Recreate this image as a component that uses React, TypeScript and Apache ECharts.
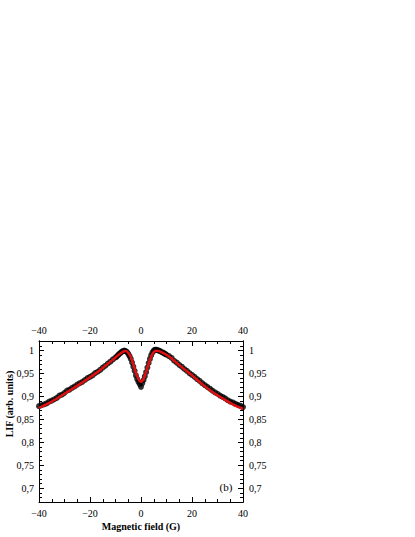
import React, { useEffect, useRef } from "react";
import * as echarts from "echarts";

const X_MIN = -40;
const X_MAX = 40;
const Y_MIN = 0.67;
const Y_MAX = 1.021;

const yMajorTicks = [0.7, 0.75, 0.8, 0.85, 0.9, 0.95, 1];
const yMinorTicks = [
  0.67, 0.68, 0.69, 0.71, 0.72, 0.73, 0.74, 0.76, 0.77, 0.78, 0.79, 0.81, 0.82,
  0.83, 0.84, 0.86, 0.87, 0.88, 0.89, 0.91, 0.92, 0.93, 0.94, 0.96, 0.97, 0.98,
  0.99, 1.01, 1.02,
];

// measured LIF signal (black dots): [field (G), LIF]
const measured: [number, number][] = [
  [-40, 0.879], [-39, 0.881], [-38, 0.883], [-37, 0.885], [-36, 0.889],
  [-35, 0.891], [-34, 0.894], [-33, 0.897], [-32, 0.902], [-31, 0.904],
  [-30, 0.908], [-29, 0.913], [-28, 0.915], [-27, 0.919], [-26, 0.922],
  [-25, 0.926], [-24, 0.929], [-23, 0.932], [-22, 0.936], [-21, 0.94],
  [-20, 0.943], [-19, 0.946], [-18, 0.951], [-17, 0.954], [-16, 0.958],
  [-15, 0.963], [-14, 0.967], [-13, 0.972], [-12, 0.976], [-11, 0.981],
  [-10, 0.985], [-9.5, 0.987], [-9, 0.99], [-8.5, 0.993], [-8, 0.995],
  [-7.5, 0.998], [-7, 0.999], [-6.5, 1.0], [-6, 0.999], [-5.5, 0.997],
  [-5, 0.993], [-4.5, 0.988], [-4, 0.982], [-3.5, 0.974], [-3, 0.965],
  [-2.5, 0.956], [-2, 0.946], [-1.5, 0.938], [-1, 0.932], [-0.5, 0.927],
  [0, 0.921], [0.5, 0.929], [1, 0.936], [1.5, 0.944], [2, 0.953],
  [2.5, 0.963], [3, 0.973], [3.5, 0.982], [4, 0.99], [4.5, 0.996],
  [5, 1.0], [5.5, 1.002], [6, 1.002], [6.5, 1.001], [7, 1.0],
  [7.5, 0.999], [8, 0.997], [8.5, 0.996], [9, 0.994], [9.5, 0.993],
  [10, 0.991], [11, 0.988], [12, 0.984], [13, 0.978], [14, 0.974],
  [15, 0.969], [16, 0.965], [17, 0.96], [18, 0.956], [19, 0.951],
  [20, 0.947], [21, 0.943], [22, 0.938], [23, 0.934], [24, 0.929],
  [25, 0.925], [26, 0.921], [27, 0.917], [28, 0.913], [29, 0.909],
  [30, 0.906], [31, 0.902], [32, 0.899], [33, 0.896], [34, 0.892],
  [35, 0.889], [36, 0.887], [37, 0.884], [38, 0.882], [39, 0.88],
  [40, 0.877],
];

// fitted curve (red)
const fitX = [
  -40, -36, -32, -28, -24, -20, -16, -12, -10, -9, -8, -7, -6, -5, -4, -3, -2,
  -1, -0.5, 0, 0.5, 1, 2, 3, 4, 5, 6, 7, 8, 10, 12, 16, 20, 24, 28, 32, 36, 40,
];
const fitY = [
  0.875, 0.886, 0.899, 0.913, 0.927, 0.942, 0.958, 0.976, 0.985, 0.99, 0.994,
  0.998, 0.999, 0.995, 0.986, 0.97, 0.952, 0.938, 0.934, 0.932, 0.934, 0.938,
  0.953, 0.971, 0.987, 0.997, 1.0, 0.999, 0.997, 0.991, 0.983, 0.964, 0.946,
  0.927, 0.91, 0.896, 0.883, 0.873,
];

const FONT = "Liberation Serif, Times New Roman, serif";

const fmtY = (v: number) => String(Number(v.toFixed(2))).replace(".", ",");
const fmtX = (v: number) => (v < 0 ? "\u2212" + Math.abs(v) : String(v));

export default function App() {
  const ref = useRef<HTMLDivElement>(null);

  useEffect(() => {
    if (!ref.current) return;
    const chart = echarts.init(ref.current, undefined, { renderer: "svg" });

    const axisLine = { show: true, onZero: false, lineStyle: { color: "#000", width: 1 } };
    const labelStyle = { color: "#000", fontFamily: FONT, fontSize: 10 };

    const xAxisBase = (position: "top" | "bottom") => ({
      type: "value" as const,
      position,
      min: X_MIN,
      max: X_MAX,
      interval: 20,
      axisLine,
      axisTick: { show: true, inside: true, length: 5, lineStyle: { color: "#000" } },
      minorTick: { show: true, splitNumber: 4, length: 3, lineStyle: { color: "#000" } },
      axisLabel: { ...labelStyle, margin: 6, formatter: fmtX },
      splitLine: { show: false },
      minorSplitLine: { show: false },
    });

    const yMajor = (position: "left" | "right") => ({
      type: "value" as const,
      position,
      min: Y_MIN,
      max: Y_MAX,
      axisLine,
      axisTick: {
        show: true,
        inside: true,
        length: 5,
        customValues: yMajorTicks,
        lineStyle: { color: "#000" },
      },
      axisLabel: {
        ...labelStyle,
        margin: position === "left" ? 5 : 6,
        customValues: yMajorTicks,
        formatter: fmtY,
      },
      splitLine: { show: false },
    });

    const yMinor = (position: "left" | "right") => ({
      type: "value" as const,
      position,
      min: Y_MIN,
      max: Y_MAX,
      axisLine,
      axisTick: {
        show: true,
        inside: true,
        length: 3,
        customValues: yMinorTicks,
        lineStyle: { color: "#000" },
      },
      axisLabel: { show: false },
      splitLine: { show: false },
    });

    chart.setOption({
      animation: false,
      backgroundColor: "#fff",
      grid: { left: 39, top: 341, width: 204, height: 161, containLabel: false },
      xAxis: [xAxisBase("bottom"), xAxisBase("top")],
      yAxis: [yMajor("left"), yMinor("left"), yMajor("right"), yMinor("right")],
      graphic: [
        {
          type: "text",
          x: 9,
          y: 404,
          rotation: Math.PI / 2,
          style: {
            text: "LIF (arb. units)",
            fill: "#000",
            fontFamily: FONT,
            fontWeight: "bold",
            fontSize: 10,
            align: "center",
            verticalAlign: "middle",
          },
        },
        {
          type: "text",
          x: 141,
          y: 526,
          style: {
            text: "Magnetic field (G)",
            fill: "#000",
            fontFamily: FONT,
            fontWeight: "bold",
            fontSize: 10,
            align: "center",
            verticalAlign: "middle",
          },
        },
        {
          type: "text",
          x: 226,
          y: 487,
          style: {
            text: "(b)",
            fill: "#000",
            fontFamily: FONT,
            fontSize: 11,
            align: "center",
            verticalAlign: "middle",
          },
        },
      ],
      series: [
        {
          type: "scatter",
          xAxisIndex: 0,
          yAxisIndex: 0,
          data: measured,
          symbol: "circle",
          symbolSize: 6,
          itemStyle: { color: "#000" },
          silent: true,
        },
        {
          type: "line",
          xAxisIndex: 0,
          yAxisIndex: 0,
          data: fitX.map((x, i) => [x, fitY[i]]),
          smooth: 0.3,
          showSymbol: false,
          lineStyle: { color: "#e01010", width: 2.5 },
          silent: true,
          z: 5,
        },
      ],
    });

    return () => chart.dispose();
  }, []);

  return (
    <div
      ref={ref}
      style={{ position: "absolute", left: 0, top: 0, width: 415, height: 537 }}
    />
  );
}
